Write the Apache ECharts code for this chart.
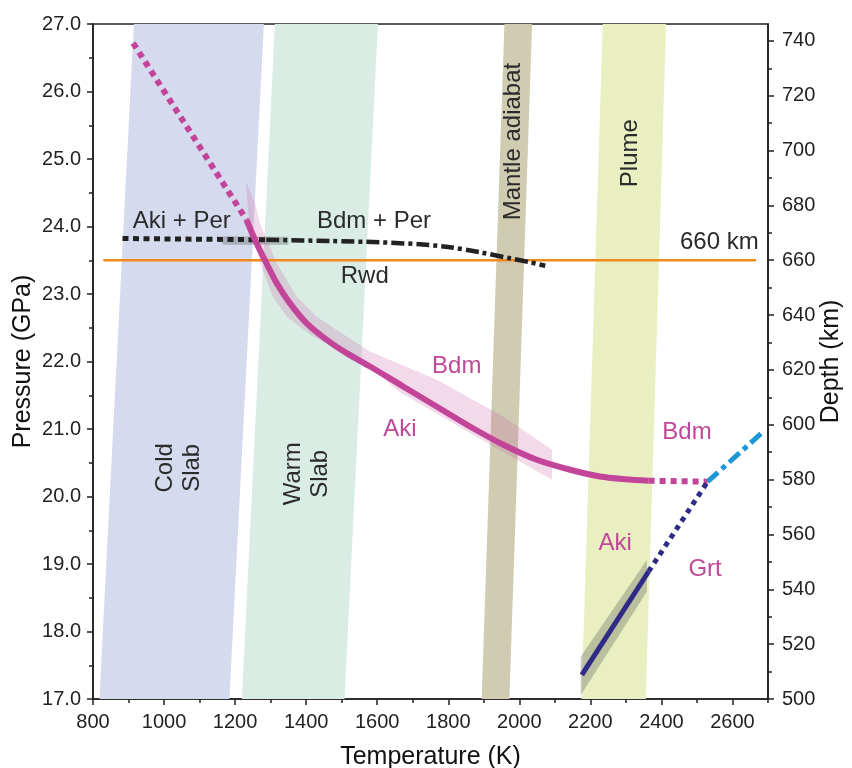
<!DOCTYPE html>
<html>
<head>
<meta charset="utf-8">
<script src="https://cdn.jsdelivr.net/npm/echarts@6/dist/echarts.min.js"></script>
<style>
  html, body { margin: 0; background: #fff; }
  #chart { width: 852px; height: 768px; }
</style>
</head>
<body>
<div id="chart"></div>
<script>
const FONT = '"Liberation Sans", Arial, Helvetica, sans-serif';

// axis ticks
const tempTicks = [800, 1000, 1200, 1400, 1600, 1800, 2000, 2200, 2400, 2600];
const pressureTicks = [17, 18, 19, 20, 21, 22, 23, 24, 25, 26, 27];
const depthTicks = [500, 520, 540, 560, 580, 600, 620, 640, 660, 680, 700, 720, 740];
const depthMinorTicks = [];
for (let d = 500; d <= 740; d += 10) depthMinorTicks.push(d);

// temperature bands [T, P] corners
const coldSlab = [[818, 17], [1184, 17], [1281, 27], [915, 27]];
const warmSlab = [[1219, 17], [1508, 17], [1602, 27], [1312, 27]];
const mantleAdiabat = [[1894, 17], [1972, 17], [2036, 27], [1958, 27]];
const plume = [[2175, 17], [2356, 17], [2413, 27], [2235, 27]];

// uncertainty envelopes
const akiBdmBand = [
  [1230, 24.667], [1256, 24.347], [1270, 24.05], [1317, 23.458], [1373, 22.963],
  [1429, 22.667], [1514, 22.37], [1580, 22.148], [1768, 21.729], [1955, 21.185],
  [2092, 20.692], [2092, 20.247], [1861, 20.939], [1664, 21.544], [1560, 22.0],
  [1419, 22.37], [1345, 22.667], [1306, 22.959], [1270, 23.458], [1237, 24.199]
];
const akiPerBand = [[1165, 23.855], [1350, 23.85], [1350, 23.73], [1165, 23.73]];
const akiGrtBand = [[2173, 17.06], [2173, 17.63], [2359, 19.06], [2359, 18.59]];

// phase boundaries [T, P]
const akiBdmDotted = [[913, 26.717], [1232, 24.1]];
const akiBdmSolid = [
  [1232, 24.1], [1260, 23.754], [1288, 23.458], [1317, 23.161], [1354, 22.865],
  [1401, 22.569], [1458, 22.321], [1514, 22.124], [1580, 21.926], [1673, 21.63],
  [1767, 21.333], [1861, 21.037], [1955, 20.766], [2049, 20.544], [2143, 20.396],
  [2227, 20.296], [2298, 20.255], [2364, 20.233]
];
const akiBdmDotted2 = [[2364, 20.233], [2530, 20.22]];
const akiPerDotted = [[883, 23.822], [1288, 23.803]];
const bdmPerDashDot = [
  [1288, 23.803], [1467, 23.785], [1608, 23.766], [1720, 23.736], [1805, 23.692],
  [1889, 23.618], [1974, 23.529], [2030, 23.47], [2073, 23.418]
];
const akiGrtSolid = [[2176, 17.359], [2364, 18.889]];
const akiGrtDotted = [[2364, 18.889], [2530, 20.22]];
const bdmGrtDashDot = [[2530, 20.22], [2680, 20.93]];
const line660 = [[829, 23.5], [2666, 23.5]];

// text annotations [T, P]
const darkLabels = [
  { text: 'Aki + Per', at: [1050, 24.07] },
  { text: 'Bdm + Per', at: [1591, 24.07] },
  { text: 'Rwd', at: [1565, 23.255] },
  { text: '660 km', at: [2563, 23.759] },
  { text: 'Cold\nSlab', at: [1041, 20.425], vertical: true },
  { text: 'Warm\nSlab', at: [1401, 20.336], vertical: true },
  { text: 'Mantle adiabat', at: [1983, 25.259], vertical: true },
  { text: 'Plume', at: [2312, 25.087], vertical: true }
];
const phaseLabels = [
  { text: 'Bdm', at: [1824, 21.926] },
  { text: 'Aki', at: [1664, 20.988] },
  { text: 'Bdm', at: [2472, 20.948] },
  { text: 'Aki', at: [2270, 19.299] },
  { text: 'Grt', at: [2523, 18.914] }
];

const MAGENTA = '#c2459a';

function polygon(points, fill, z) {
  return {
    type: 'custom',
    coordinateSystem: 'cartesian2d',
    silent: true,
    z: z,
    data: [points[0]],
    renderItem: (params, api) => ({
      type: 'polygon',
      shape: { points: points.map(p => api.coord(p)) },
      style: { fill: fill }
    })
  };
}

function line(data, color, width, dash, z, smooth) {
  return {
    type: 'line',
    data: data,
    showSymbol: false,
    silent: true,
    smooth: smooth || false,
    z: z,
    lineStyle: { color: color, width: width, type: dash || 'solid', cap: 'butt' }
  };
}

function labels(items, color, z) {
  return {
    type: 'custom',
    coordinateSystem: 'cartesian2d',
    silent: true,
    z: z,
    data: items.map(a => a.at),
    renderItem: (params, api) => {
      const a = items[params.dataIndex];
      const p = api.coord(a.at);
      return {
        type: 'text',
        x: p[0],
        y: p[1],
        rotation: a.vertical ? Math.PI / 2 : 0,
        style: {
          text: a.text,
          fill: color,
          fontSize: 24,
          fontFamily: FONT,
          align: 'center',
          verticalAlign: 'middle',
          lineHeight: 27
        }
      };
    }
  };
}

const chart = echarts.init(document.getElementById('chart'));

const tickStyle = { color: '#222', width: 1.5 };
const nameStyle = { fontSize: 25, color: '#111', fontFamily: FONT };

const option = {
  animation: false,
  textStyle: { fontFamily: FONT },
  grid: {
    left: 93, right: 84, top: 24, bottom: 69,
    outerBoundsMode: 'none',
    containLabel: false,
    show: true, borderColor: '#222', borderWidth: 1.6
  },
  xAxis: [
    {
      type: 'value', min: 800, max: 2700, interval: 200, position: 'bottom',
      name: 'Temperature (K)', nameLocation: 'middle', nameGap: 46,
      nameMoveOverlap: false,
      nameTextStyle: nameStyle,
      axisLine: { lineStyle: { color: '#222', width: 1.6 } },
      axisTick: { length: 6, lineStyle: tickStyle, customValues: tempTicks },
      axisLabel: {
        fontSize: 20, color: '#222', margin: 13, customValues: tempTicks,
        formatter: v => String(v)
      },
      splitLine: { show: false }
    },
    {
      type: 'value', min: 800, max: 2700, interval: 100, position: 'bottom',
      axisLine: { show: false },
      axisTick: { length: 4, lineStyle: tickStyle },
      axisLabel: { show: false },
      splitLine: { show: false }
    }
  ],
  yAxis: [
    {
      type: 'value', min: 17, max: 27, interval: 1, position: 'left',
      name: 'Pressure (GPa)', nameLocation: 'middle', nameGap: 57,
      nameMoveOverlap: false,
      nameTextStyle: nameStyle,
      axisLine: { show: true, lineStyle: { color: '#222', width: 1.6 } },
      axisTick: { length: 6, lineStyle: tickStyle, customValues: pressureTicks },
      axisLabel: {
        fontSize: 20, color: '#222', margin: 12, customValues: pressureTicks,
        formatter: v => v.toFixed(1)
      },
      splitLine: { show: false }
    },
    {
      type: 'value', min: 500, max: 746.15, interval: 20, position: 'right',
      name: 'Depth (km)', nameLocation: 'middle', nameGap: 51,
      nameMoveOverlap: false,
      nameTextStyle: nameStyle,
      axisLine: { show: true, lineStyle: { color: '#222', width: 1.6 } },
      axisTick: { length: 6, lineStyle: tickStyle, customValues: depthTicks },
      axisLabel: { fontSize: 20, color: '#222', margin: 14, customValues: depthTicks },
      splitLine: { show: false }
    },
    {
      type: 'value', min: 17, max: 27, interval: 0.5, position: 'left',
      axisLine: { show: false },
      axisTick: { length: 4, lineStyle: tickStyle },
      axisLabel: { show: false },
      splitLine: { show: false }
    },
    {
      type: 'value', min: 500, max: 746.15, position: 'right',
      axisLine: { show: false },
      axisTick: { length: 4, lineStyle: tickStyle, customValues: depthMinorTicks },
      axisLabel: { show: false },
      splitLine: { show: false }
    }
  ],
  series: [
    polygon(coldSlab, '#d6daef', 1),
    polygon(warmSlab, '#d9ede5', 1),
    polygon(mantleAdiabat, '#cfccb2', 1),
    polygon(plume, '#e9efc1', 1),
    polygon(akiBdmBand, 'rgba(200, 85, 160, 0.22)', 2),
    polygon(akiPerBand, 'rgba(80, 80, 80, 0.32)', 2),
    polygon(akiGrtBand, 'rgba(80, 80, 80, 0.3)', 2),
    line(line660, '#f0891f', 2.5, 'solid', 3),
    line(akiPerDotted, '#222', 5, [6, 4.5], 4),
    line(bdmPerDashDot, '#222', 4.5, [13, 4, 4, 4], 4, 0.3),
    line(akiBdmDotted, MAGENTA, 6, [6, 5], 5),
    line(akiBdmSolid, MAGENTA, 6, 'solid', 5, 0.3),
    line(akiBdmDotted2, MAGENTA, 6, [6, 5], 5),
    line(akiGrtSolid, '#2f2a86', 5, 'solid', 5),
    line(akiGrtDotted, '#2f2a86', 5, [5, 5], 5),
    line(bdmGrtDashDot, '#1c96d4', 5, [14, 5, 5, 5], 5),
    labels(darkLabels, '#2b2b2b', 6),
    labels(phaseLabels, '#bf4898', 6)
  ]
};

chart.setOption(option);
</script>
</body>
</html>
